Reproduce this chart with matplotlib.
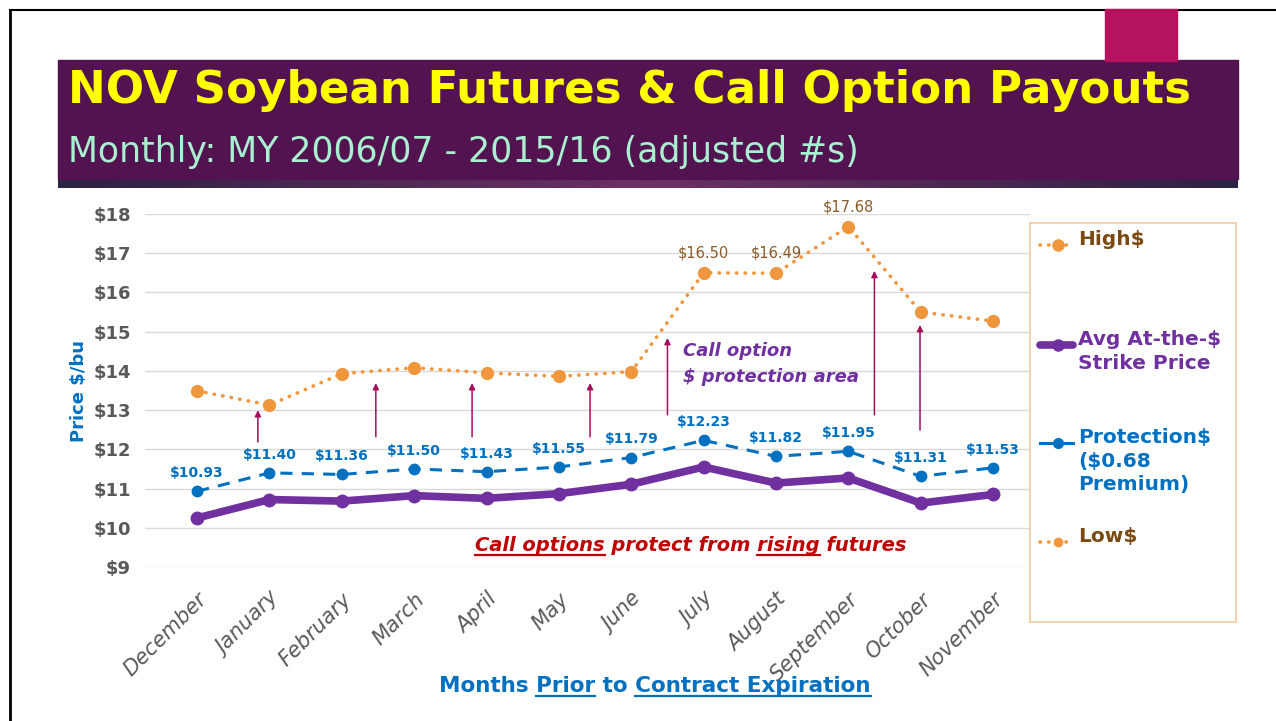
import matplotlib
matplotlib.use("Agg")
import matplotlib.pyplot as plt
import numpy as np
from matplotlib.lines import Line2D
from matplotlib.patches import Rectangle
from matplotlib.colors import LinearSegmentedColormap

# ── data ─────────────────────────────────────────────────────────────────────

MONTHS = ["December", "January", "February", "March", "April", "May",
          "June", "July", "August", "September", "October", "November"]

HIGH = [13.49, 13.13, 13.93, 14.08, 13.95, 13.86, 13.98, 16.50, 16.49, 17.68, 15.50, 15.27]
PROTECTION = [10.93, 11.40, 11.36, 11.50, 11.43, 11.55, 11.79, 12.23, 11.82, 11.95, 11.31, 11.53]
STRIKE = [10.25, 10.72, 10.68, 10.82, 10.75, 10.87, 11.11, 11.55, 11.14, 11.27, 10.63, 10.85]
HIGH_LABELED = [7, 8, 9]          # only these High$ points carry a value label

Y_TICKS = [9, 10, 11, 12, 13, 14, 15, 16, 17, 18]

# callout arrows: x position (month index), start and end price
ARROW_X = [0.84, 2.47, 3.80, 5.43, 6.50, 9.36, 9.99]
ARROW_FROM = [12.19, 12.32, 12.32, 12.32, 12.88, 12.88, 12.49]
ARROW_TO = [13.00, 13.69, 13.69, 13.69, 14.84, 16.55, 15.17]

# ── palette ──────────────────────────────────────────────────────────────────

ORANGE = "#f0963c"
BLUE = "#0070c0"
PURPLE = "#7030a0"
BROWN = "#7b4a12"
HIGH_LBL = "#8c5a28"
ARROW = "#a50d5e"
RED = "#c00000"
GREY = "#595959"
BANNER = "#521350"
FONT = "DejaVu Sans"

W, H = 1276, 721
fig = plt.figure(figsize=(W / 100, H / 100), dpi=100)
fig.patch.set_facecolor("white")


def fx(px):
    return px / W


def fy(py):
    return 1 - py / H


# ── slide decoration ─────────────────────────────────────────────────────────

fig.add_artist(Line2D([fx(10), fx(10)], [fy(10), 0], color="black", lw=2))
fig.add_artist(Line2D([fx(10), 1], [fy(10), fy(10)], color="black", lw=1.5))
fig.add_artist(Rectangle((fx(58), fy(179)), fx(1180), fy(60) - fy(179),
                         transform=fig.transFigure, color=BANNER, zorder=1))
fig.add_artist(Rectangle((fx(1105), fy(61)), fx(72), fy(9) - fy(61),
                         transform=fig.transFigure, color="#b5135f", zorder=2))

sh = fig.add_axes([fx(58), fy(188), fx(1180), fy(178) - fy(188)])
cmap = LinearSegmentedColormap.from_list("sh", ["#2b2244", "#6e3066", "#2b2244"])
sh.imshow(np.linspace(0, 1, 256)[None, :], aspect="auto", cmap=cmap)
sh.axis("off")

fig.text(fx(68), fy(90), "NOV Soybean Futures & Call Option Payouts",
         color="#ffff00", fontsize=32.5, fontweight="bold", family=FONT,
         ha="left", va="center", zorder=3)
fig.text(fx(68), fy(152), "Monthly: MY 2006/07 - 2015/16 (adjusted #s)",
         color="#a8f0d0", fontsize=25, family=FONT,
         ha="left", va="center", zorder=3)

# ── chart ────────────────────────────────────────────────────────────────────

ax = fig.add_axes([fx(145), fy(567), fx(1030) - fx(145), fy(214) - fy(567)])
x = np.arange(len(MONTHS))

ax.plot(x, HIGH, color=ORANGE, lw=2.6, linestyle=(0, (0.1, 2.3)),
        dash_capstyle="round", marker="o", ms=8.5, zorder=3)
ax.plot(x, STRIKE, color=PURPLE, lw=5.5, marker="o", ms=9,
        solid_capstyle="round", zorder=4)
ax.plot(x, PROTECTION, color=BLUE, lw=2.2, linestyle=(0, (4, 3)),
        marker="o", ms=7.5, zorder=4)

for i, v in enumerate(PROTECTION):
    ax.annotate(f"${v:.2f}", (i, v), xytext=(0, 8), textcoords="offset points",
                ha="center", va="bottom", color=BLUE, fontsize=10,
                fontweight="bold", family=FONT)
for i in HIGH_LABELED:
    ax.annotate(f"${HIGH[i]:.2f}", (i, HIGH[i]), xytext=(0, 9),
                textcoords="offset points", ha="center", va="bottom",
                color=HIGH_LBL, fontsize=10.5, family=FONT, annotation_clip=False)

for ax_x, y0, y1 in zip(ARROW_X, ARROW_FROM, ARROW_TO):
    ax.annotate("", xy=(ax_x, y1), xytext=(ax_x, y0),
                arrowprops=dict(arrowstyle="-|>", color=ARROW, lw=1.1,
                                mutation_scale=9, shrinkA=0, shrinkB=0))

ax.text(6.72, 14.51, "Call option", color=PURPLE, fontsize=13,
        fontweight="bold", style="italic", family=FONT, va="center")
ax.text(6.72, 13.85, "$ protection area", color=PURPLE, fontsize=13,
        fontweight="bold", style="italic", family=FONT, va="center")

ax.set_xlim(-0.72, 11.51)
ax.set_ylim(9, 18)
ax.set_yticks(Y_TICKS)
ax.set_yticklabels([f"${t}" for t in Y_TICKS], color=GREY, fontsize=13,
                   fontweight="bold", family=FONT)
ax.set_xticks(x)
ax.set_xticklabels(MONTHS, rotation=45, ha="right", rotation_mode="anchor",
                   color=GREY, fontsize=15, style="italic", family=FONT)
ax.tick_params(length=0, axis="y", pad=10)
ax.tick_params(length=0, axis="x", pad=16)
ax.grid(axis="y", color="#d9d9d9", lw=1)
ax.set_axisbelow(True)
for s in ax.spines.values():
    s.set_visible(False)
ax.set_ylabel("Price $/bu", color=BLUE, fontsize=13, fontweight="bold",
              family=FONT, labelpad=4)

# ── underlined rich text helper ──────────────────────────────────────────────

renderer = fig.canvas.get_renderer()


def text_w(s, **kw):
    t = fig.text(0, 0, s + "|", **kw)
    w1 = t.get_window_extent(renderer).width
    t.remove()
    t = fig.text(0, 0, "|", **kw)
    w2 = t.get_window_extent(renderer).width
    t.remove()
    return w1 - w2


def underlined(cx, base_y, s, spans, color, **kw):
    total = text_w(s, **kw)
    left = cx - total / 2
    fig.text(fx(left), fy(base_y), s, color=color, ha="left", va="baseline", **kw)
    for a, b in spans:
        x0 = left + text_w(s[:a], **kw)
        x1 = left + text_w(s[:b], **kw)
        fig.add_artist(Line2D([fx(x0), fx(x1)], [fy(base_y + 4)] * 2,
                              color=color, lw=1.6))


s = "Call options protect from rising futures"
underlined(691, 551, s, [(0, 12), (26, 32)], RED, fontsize=14,
           fontweight="bold", style="italic", family=FONT)

s = "Months Prior to Contract Expiration"
underlined(655, 692, s, [(7, 12), (16, 35)], BLUE, fontsize=15.5,
           fontweight="bold", family=FONT)

# ── legend panel ─────────────────────────────────────────────────────────────

lg = fig.add_axes([fx(1030), fy(622), fx(1236) - fx(1030), fy(223) - fy(622)])
lg.set_xlim(0, 1)
lg.set_ylim(0, 1)
lg.set_xticks([])
lg.set_yticks([])
for s_ in lg.spines.values():
    s_.set_color("#f6c9a0")
    s_.set_linewidth(1.2)

entries = [
    ("High$", 0.945, BROWN, dict(color=ORANGE, lw=2.6, linestyle=(0, (0.1, 2.3)),
                                dash_capstyle="round", ms=8)),
    ("Avg At-the-$\nStrike Price", 0.694, PURPLE, dict(color=PURPLE, lw=5.5,
                                                     solid_capstyle="round", ms=8)),
    ("Protection$\n($0.68\nPremium)", 0.449, BLUE, dict(color=BLUE, lw=2.2, ms=7)),
    ("Low$", 0.201, BROWN, dict(color=ORANGE, lw=2.6, linestyle=(0, (0.1, 2.3)),
                               dash_capstyle="round", ms=6)),
]
for label, yy, tc, style in entries:
    lg.add_line(Line2D([0.05, 0.135, 0.21], [yy, yy, yy], marker="o",
                       markevery=[1], **style))
    lg.text(0.235, yy + 0.037, label, color=tc, fontsize=14.5, fontweight="bold",
            family=FONT, va="top", ha="left", linespacing=1.3)

fig.savefig("out.png", dpi=100, facecolor="white")
